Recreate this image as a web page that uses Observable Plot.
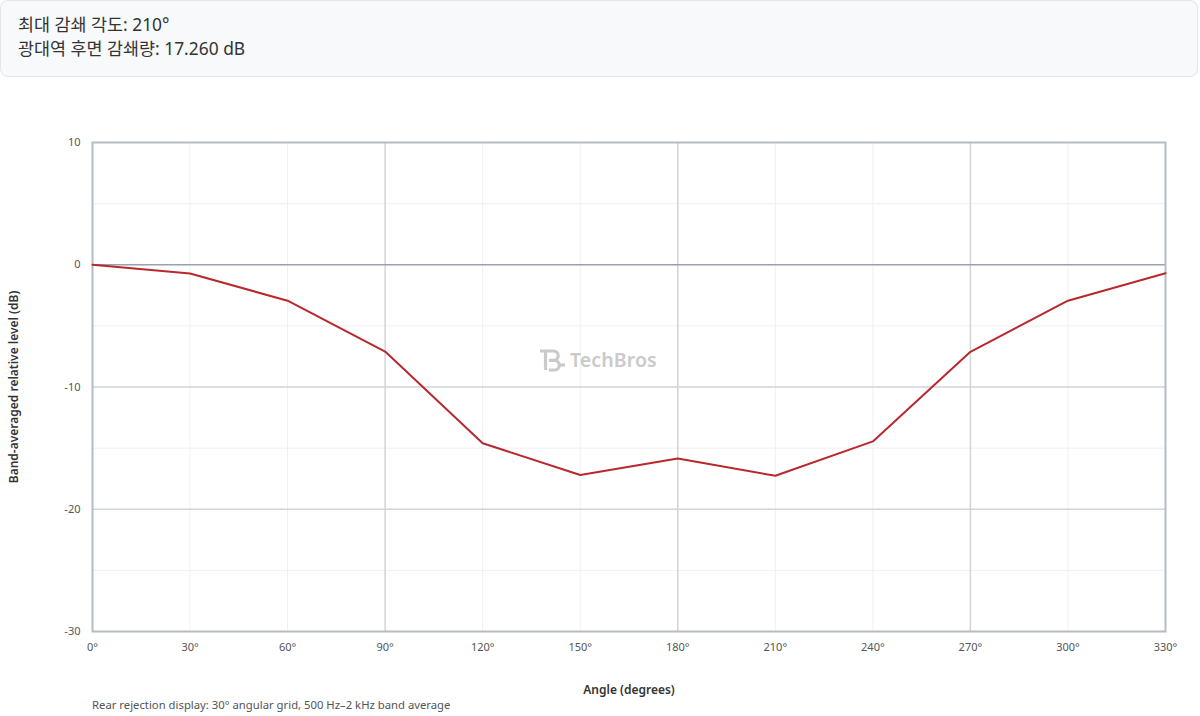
<!DOCTYPE html>
<html>
<head>
<meta charset="utf-8">
<script src="https://cdn.jsdelivr.net/npm/d3@7"></script>
<script src="https://cdn.jsdelivr.net/npm/@observablehq/plot@0.6"></script>
<style>
  html, body { margin: 0; padding: 0; background: #fff; }
  body { width: 1200px; height: 716px; position: relative; overflow: hidden;
         font-family: "Noto Sans", "Noto Sans CJK KR", sans-serif; color: #333; }
  #summary { position: absolute; left: 0; top: 0; width: 1198px; height: 77px; box-sizing: border-box;
             border: 1px solid #e2e5e9; border-radius: 8px; background: #f8f9fa;
             padding: 11px 17px; font-family: "Noto Sans", "Noto Sans CJK KR", sans-serif;
             font-size: 17.4px; line-height: 24px; color: #333; }
  #chart { position: absolute; left: 0; top: 100px; }
  #caption { position: absolute; left: 92px; top: 697px; font-size: 11.3px; line-height: 16px; color: #555; }
  #wm { position: absolute; left: 539px; top: 346px; display: flex; align-items: center; gap: 4px;
        color: #cacaca; font-family: "Noto Sans", sans-serif; font-weight: 600; font-size: 19.5px; letter-spacing: 0.1px; }
</style>
</head>
<body>
<div id="summary"></div>
<div id="chart"></div>
<div id="wm"><svg width="27" height="24" viewBox="0 0 27 24"><path d="M1 3 H13 M6.5 3 V22 M10 3 H14.5 a4.7 4.7 0 0 1 0 9.4 H10 M10 12.4 H15.5 a4.8 4.8 0 0 1 0 9.6 H10 M20.5 17 H26" fill="none" stroke="#cacaca" stroke-width="3.2"/></svg><span>TechBros</span></div>
<div id="caption"></div>
<script>
const angles = [0, 30, 60, 90, 120, 150, 180, 210, 240, 270, 300, 330];
const levels = [0, -0.72, -2.94, -7.1, -14.6, -17.2, -15.85, -17.26, -14.45, -7.12, -2.94, -0.7];
const yTicks = [-30, -20, -10, 0, 10];
const xLabel = "Angle (degrees)";
const yLabel = "Band-averaged relative level (dB)";
const summaryLines = ["최대 감쇄 각도: 210°", "광대역 후면 감쇄량: 17.260 dB"];
const captionText = "Rear rejection display: 30° angular grid, 500 Hz–2 kHz band average";

document.getElementById("summary").innerHTML = summaryLines.map(s => `<div>${s}</div>`).join("");
document.getElementById("caption").textContent = captionText;

const data = angles.map((a, i) => ({angle: a, level: levels[i]}));
const xMajor = angles.filter(a => a > 0 && a % 90 === 0);
const xMinor = angles.filter(a => a > 0 && a % 90 !== 0);
const yMajor = yTicks.filter(v => v !== 0 && v !== yTicks[0] && v !== yTicks[yTicks.length - 1]);
const yMinor = yTicks.slice(1).map((v, i) => (v + yTicks[i]) / 2);

const chart = Plot.plot({
  width: 1200,
  height: 597,
  marginTop: 42,
  marginLeft: 92,
  marginRight: 35,
  marginBottom: 66,
  style: {fontFamily: "'Noto Sans', sans-serif", fontSize: "11px", color: "#555", background: "transparent"},
  x: {domain: [0, 330]},
  y: {domain: [-30, 10]},
  marks: [
    Plot.ruleX(xMinor, {stroke: "#edf0f3", strokeWidth: 1}),
    Plot.ruleY(yMinor, {stroke: "#edf0f3", strokeWidth: 1}),
    Plot.ruleX(xMajor, {stroke: "#cfd5db", strokeWidth: 1.5}),
    Plot.ruleY(yMajor, {stroke: "#cfd5db", strokeWidth: 1.5}),
    Plot.ruleY([0], {stroke: "#98a2ad", strokeWidth: 1.5}),
    Plot.frame({stroke: "#b4bcc4", strokeWidth: 2}),
    Plot.line(data, {x: "angle", y: "level", stroke: "#b8282c", strokeWidth: 2}),
    Plot.axisX(angles, {tickSize: 0, tickPadding: 12, tickFormat: d => d + "°", label: null}),
    Plot.axisY(yTicks, {tickSize: 0, tickPadding: 12, tickFormat: d => String(d), label: null}),
    Plot.text([xLabel], {frameAnchor: "bottom", dy: 62, textAnchor: "middle", fontSize: 12, fontWeight: 600, fill: "#333"}),
    Plot.text([yLabel], {frameAnchor: "left", dx: -78, textAnchor: "middle", rotate: -90, fontSize: 12, fontWeight: 600, fill: "#333"})
  ]
});
document.getElementById("chart").appendChild(chart);
</script>
</body>
</html>
